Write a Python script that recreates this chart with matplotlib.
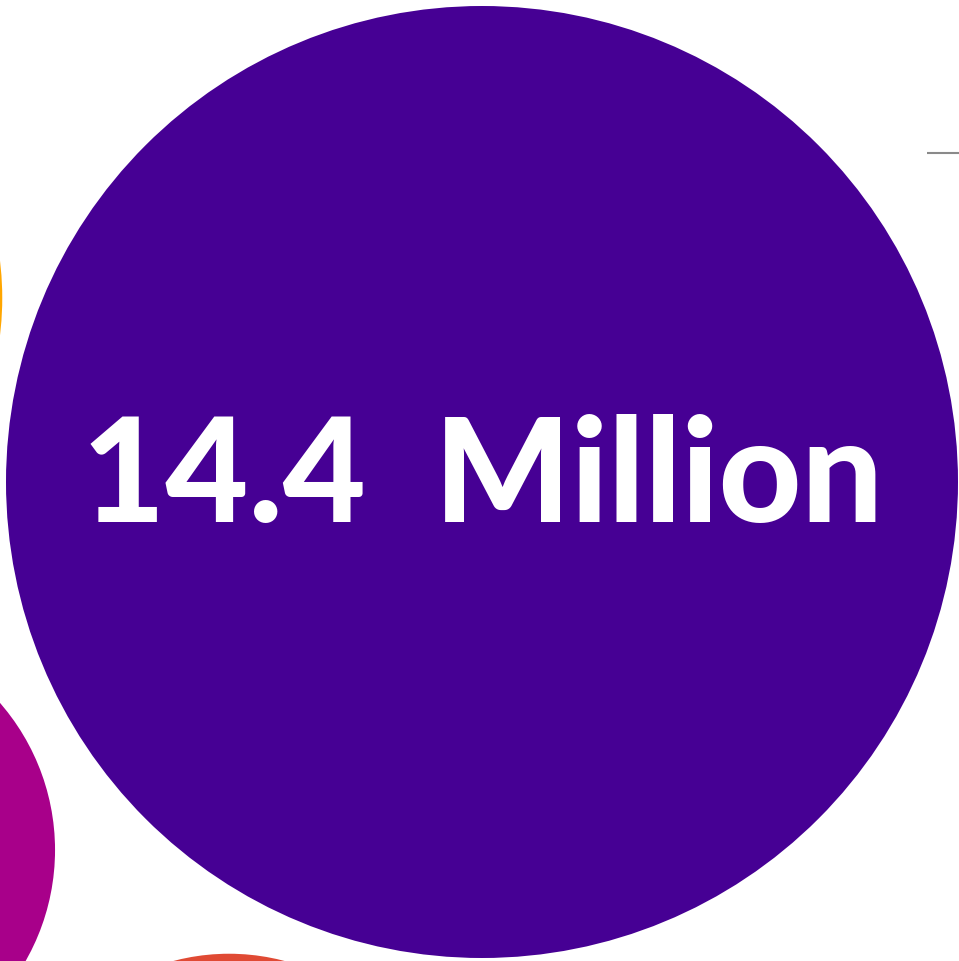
import numpy as np
import matplotlib
matplotlib.use("Agg")
import matplotlib.pyplot as plt
from matplotlib.patches import Circle

# Bubble values (millions) and layout
names = ["Total", "Orange group", "Magenta group", "Red group"]
values = [14.4, 6.0, 3.19, 3.0]
centers_x = [482, -305, -169, 229]
centers_y = [482, 298, 850, 1171]
colors = ["#460094", "#FFA600", "#A8008A", "#E04A34"]
label = "14.4  Million"

W, H = 959, 961
fig = plt.figure(figsize=(W / 100, H / 100), dpi=100)
ax = fig.add_axes([0, 0, 1, 1])
ax.set_xlim(0, W)
ax.set_ylim(H, 0)
ax.set_aspect("equal")
ax.axis("off")

# radius proportional to sqrt(value): area encodes value
scale = 476 / np.sqrt(values[0])
for v, cx, cy, c in zip(values, centers_x, centers_y, colors):
    ax.add_patch(Circle((cx, cy), scale * np.sqrt(v), facecolor=c, edgecolor="none"))

# leader line stub at top right
ax.plot([927, W], [153, 153], color="#8a8a8a", lw=1.5, solid_capstyle="butt")

# value label, sized to span the target width
txt = ax.text(482, 522, label, ha="center", va="baseline", color="white",
              fontsize=100, fontweight="black", family="Lato")
fig.canvas.draw()
bb = txt.get_window_extent()
target_w = 800
txt.set_fontsize(100 * target_w / bb.width)

fig.savefig("out.png", dpi=100, facecolor="white")
